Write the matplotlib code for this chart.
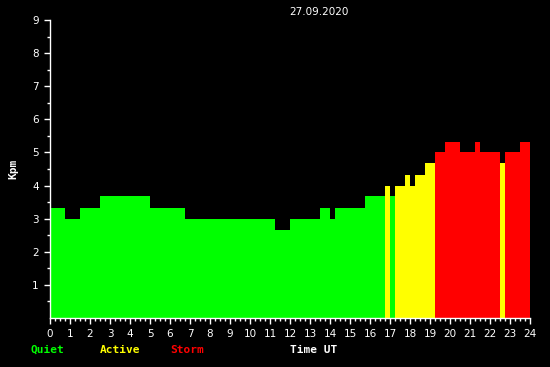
import matplotlib
matplotlib.use("Agg")
import matplotlib.pyplot as plt
import numpy as np

# Kpm every 15 minutes, one row per hour (4 values)
kpm = [
    3.33, 3.33, 3.33, 3.0,   # 0
    3.0, 3.0, 3.33, 3.33,    # 1
    3.33, 3.33, 3.67, 3.67,  # 2
    3.67, 3.67, 3.67, 3.67,  # 3
    3.67, 3.67, 3.67, 3.67,  # 4
    3.33, 3.33, 3.33, 3.33,  # 5
    3.33, 3.33, 3.33, 3.0,   # 6
    3.0, 3.0, 3.0, 3.0,      # 7
    3.0, 3.0, 3.0, 3.0,      # 8
    3.0, 3.0, 3.0, 3.0,      # 9
    3.0, 3.0, 3.0, 3.0,      # 10
    3.0, 2.67, 2.67, 2.67,   # 11
    3.0, 3.0, 3.0, 3.0,      # 12
    3.0, 3.0, 3.33, 3.33,    # 13
    3.0, 3.33, 3.33, 3.33,   # 14
    3.33, 3.33, 3.33, 3.67,  # 15
    3.67, 3.67, 3.67, 4.0,   # 16
    3.67, 4.0, 4.0, 4.33,    # 17
    4.0, 4.33, 4.33, 4.67,   # 18
    4.67, 5.0, 5.0, 5.33,    # 19
    5.33, 5.33, 5.0, 5.0,    # 20
    5.0, 5.33, 5.0, 5.0,     # 21
    5.0, 5.0, 4.67, 5.0,     # 22
    5.0, 5.0, 5.33, 5.33,    # 23
]
date_label = "27.09.2020"
legend_labels = ["Quiet", "Active", "Storm"]
legend_colors = ["#00ff00", "#ffff00", "#ff0000"]

kpm = np.array(kpm)
t = np.arange(len(kpm)) * 0.25

def level_color(v):
    if v < 4:
        return legend_colors[0]
    if v < 5:
        return legend_colors[1]
    return legend_colors[2]

colors = [level_color(v) for v in kpm]

fig = plt.figure(figsize=(5.5, 3.67), dpi=100, facecolor="black")
ax = fig.add_axes([50 / 550, 49 / 367, 480 / 550, 298 / 367])
ax.set_facecolor("black")

ax.bar(t, kpm, width=0.25, align="edge", color=colors, linewidth=0)

ax.set_xlim(0, 24)
ax.set_ylim(0, 9)
ax.set_xticks(range(0, 25))
ax.set_xticks(np.arange(0, 24.01, 0.25), minor=True)
ax.set_yticks(range(1, 10))
ax.set_yticks(np.arange(0.5, 9.01, 0.5), minor=True)

for s in ["top", "right"]:
    ax.spines[s].set_visible(False)
for s in ["left", "bottom"]:
    ax.spines[s].set_color("white")
    ax.spines[s].set_linewidth(1)

ax.tick_params(which="major", colors="white", length=4, width=1,
               labelsize=7.5, pad=4)
ax.tick_params(which="minor", colors="white", length=2, width=1)

ax.set_ylabel("Kpm", color="white", fontsize=8, fontweight="bold",
              family="DejaVu Sans Mono", labelpad=10)

fig.text(319 / 550, 1 - 12 / 367, date_label, color="white", fontsize=7.5,
         ha="center", va="center")

legend_x = [47, 120, 187]
for x, lab, c in zip(legend_x, legend_labels, legend_colors):
    fig.text(x / 550, 1 - 350 / 367, lab, color=c, fontsize=8,
             fontweight="bold", family="DejaVu Sans Mono",
             ha="center", va="center")
fig.text(314 / 550, 1 - 350 / 367, "Time UT", color="white", fontsize=8,
         fontweight="bold", family="DejaVu Sans Mono", ha="center", va="center")

fig.savefig("out.png", dpi=100, facecolor="black")
